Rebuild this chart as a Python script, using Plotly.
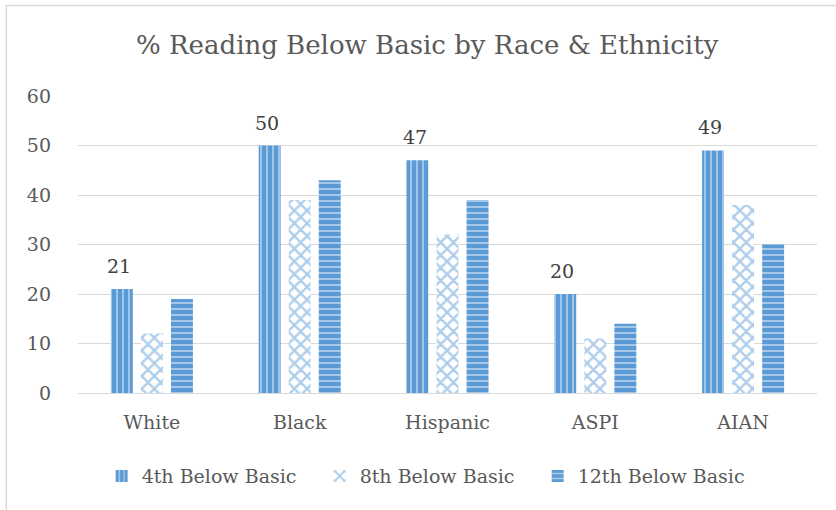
import plotly.graph_objects as go

categories = ["White", "Black", "Hispanic", "ASPI", "AIAN"]
series_names = ["4th Below Basic", "8th Below Basic", "12th Below Basic"]
grade4 = [21, 50, 47, 20, 49]
grade8 = [12, 39, 32, 11, 38]
grade12 = [19, 43, 39, 14, 30]
y_ticks = [0, 10, 20, 30, 40, 50, 60]

BLUE = "#5b9bd5"
TXT = "#595959"
FONT = "DejaVu Serif"

fig = go.Figure()
fig.add_trace(go.Bar(
    x=categories, y=grade4, name=series_names[0],
    marker=dict(color=BLUE, line=dict(width=0),
                pattern=dict(shape="|", fgcolor="white", bgcolor=BLUE, size=6, solidity=0.28)),
))
fig.add_trace(go.Bar(
    x=categories, y=grade8, name=series_names[1],
    marker=dict(color=BLUE, line=dict(width=0),
                pattern=dict(shape="x", fgcolor=BLUE, bgcolor="white", size=9, solidity=0.45)),
))
fig.add_trace(go.Bar(
    x=categories, y=grade12, name=series_names[2],
    marker=dict(color=BLUE, line=dict(width=0),
                pattern=dict(shape="-", fgcolor="white", bgcolor=BLUE, size=6, solidity=0.3)),
))

# data labels for the 4th-grade series
for c, v in zip(categories, grade4):
    fig.add_annotation(x=c, y=v, xref="x", yref="y", text=str(v), showarrow=False,
                       xshift=-33, yshift=10, yanchor="bottom",
                       font=dict(family=FONT, size=19, color="#404040"))

fig.update_layout(
    width=836, height=510,
    margin=dict(l=78, r=19, t=96, b=116.5, autoexpand=False),
    paper_bgcolor="white", plot_bgcolor="white",
    barmode="group", bargap=0.39, bargroupgap=0.27,
    title=dict(text="% Reading Below Basic by Race & Ethnicity",
               x=0.511, xanchor="center", y=0.912, yanchor="middle",
               font=dict(family=FONT, size=26, color=TXT)),
    font=dict(family=FONT, size=19, color=TXT),
    showlegend=True,
    legend=dict(orientation="h", x=0.032, xanchor="left", y=-0.28, yanchor="middle",
                entrywidth=173, entrywidthmode="pixels",
                font=dict(family=FONT, size=19, color=TXT), traceorder="normal"),
    shapes=[dict(type="rect", xref="paper", yref="paper",
                 x0=-0.097, x1=1.06, y0=-0.45, y1=1.305,
                 line=dict(color="#d9d9d9", width=1.5), fillcolor="rgba(0,0,0,0)", layer="below")],
)
fig.update_yaxes(range=[0, 60], tickvals=y_ticks, showgrid=True, gridcolor="#d9d9d9", gridwidth=1.3,
                 zeroline=False, showline=False, ticklabelstandoff=26, automargin=False,
                 tickfont=dict(family=FONT, size=19, color=TXT))
fig.update_xaxes(showline=True, linecolor="#d9d9d9", linewidth=1.3, ticks="", ticklabelstandoff=12,
                 automargin=False, tickfont=dict(family=FONT, size=19, color=TXT))

fig.write_html("out.html", config={"displayModeBar": False},
               post_script="document.body.style.margin='0px';document.body.style.overflow='hidden';")
